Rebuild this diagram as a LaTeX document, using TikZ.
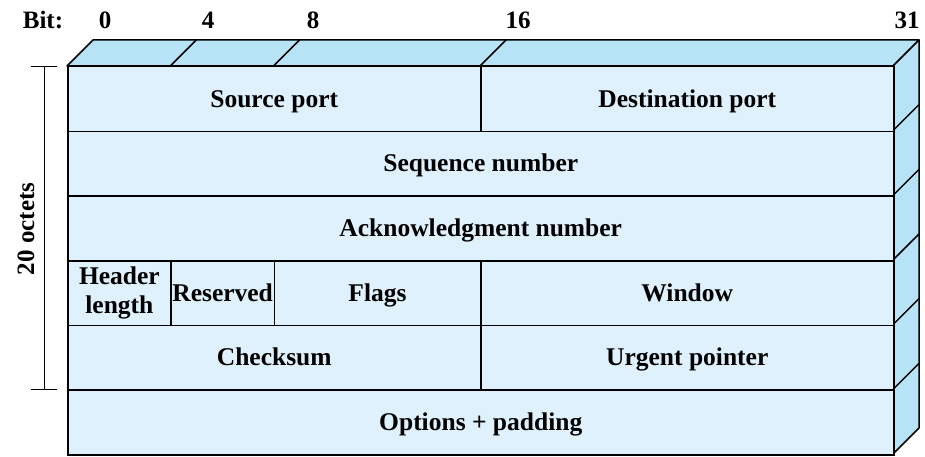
\documentclass[tikz,border=0pt]{standalone}
\usepackage{fontspec}
\setmainfont{Liberation Serif}
\definecolor{frontblue}{HTML}{DFF1FC}
\definecolor{topblue}{HTML}{B7E3F7}
\begin{document}
\begin{tikzpicture}[x=1pt,y=-1pt,
  field/.style={draw, line width=1.5pt, fill=frontblue, inner sep=0pt,
    anchor=north west, align=center, minimum height=64.67pt,
    font=\bfseries\fontsize{25.5}{28.5}\selectfont},
  onerow/.style={field, text height=19pt, text depth=3pt},
  face/.style={draw, line width=1.5pt, fill=topblue, line join=round},
  edge/.style={line width=1.5pt},
  bitlabel/.style={font=\bfseries\fontsize{25}{28}\selectfont, anchor=base, inner sep=0pt},
  bracket/.style={line width=0.9pt}]
\useasboundingbox (0,0) rectangle (925,457);

% depth offset of the 3-D block
\def\dd{26}

% top face with bit divisions
\draw[face] (67,66) -- (93,40) -- (919,40) -- (893,66) -- cycle;
\foreach \x in {170.25,273.5,480} \draw[edge] (\x,66) -- ++(\dd,-\dd);

% right side face with row divisions
\draw[face] (893,66) -- (919,40) -- (919,428) -- (893,454) -- cycle;
\foreach \y in {130.67,195.33,260,324.67,389.33} \draw[edge] (893,\y) -- ++(\dd,-\dd);

% header fields
\node[onerow, minimum width=413pt] (src) at (67,66) {Source port};
\node[onerow, minimum width=413pt] (dst) at (480,66) {Destination port};
\node[onerow, minimum width=826pt] (seq) at (67,130.67) {Sequence number};
\node[onerow, minimum width=826pt] (ack) at (67,195.33) {Acknowledgment number};
\node[field, minimum width=103.25pt] (hlen) at (67,260) {Header\\length};
\node[onerow, minimum width=103.25pt] (res) at (170.25,260) {Reserved};
\node[onerow, minimum width=206.5pt] (flags) at (273.5,260) {Flags};
\node[onerow, minimum width=413pt] (win) at (480,260) {Window};
\node[onerow, minimum width=413pt] (csum) at (67,324.67) {Checksum};
\node[onerow, minimum width=413pt] (urg) at (480,324.67) {Urgent pointer};
\node[onerow, minimum width=826pt] (opt) at (67,389.33) {Options + padding};

% bit positions
\node[bitlabel] (bit) at (43,29) {Bit:};
\node[bitlabel] (b0) at (105,29) {0};
\node[bitlabel] (b4) at (208,29) {4};
\node[bitlabel] (b8) at (313,29) {8};
\node[bitlabel] (b16) at (518,29) {16};
\node[bitlabel] (b31) at (907,29) {31};

% size bracket
\coordinate (bt) at (44,66);
\coordinate (bb) at (44,389.33);
\draw[bracket] (bt) -- (bb);
\draw[bracket] (31,66) -- (57,66);
\draw[bracket] (31,389.33) -- (57,389.33);
\node[rotate=90, font=\bfseries\fontsize{25}{28}\selectfont, inner sep=0pt] (oct) at (26,229) {20 octets};
\end{tikzpicture}
\end{document}
